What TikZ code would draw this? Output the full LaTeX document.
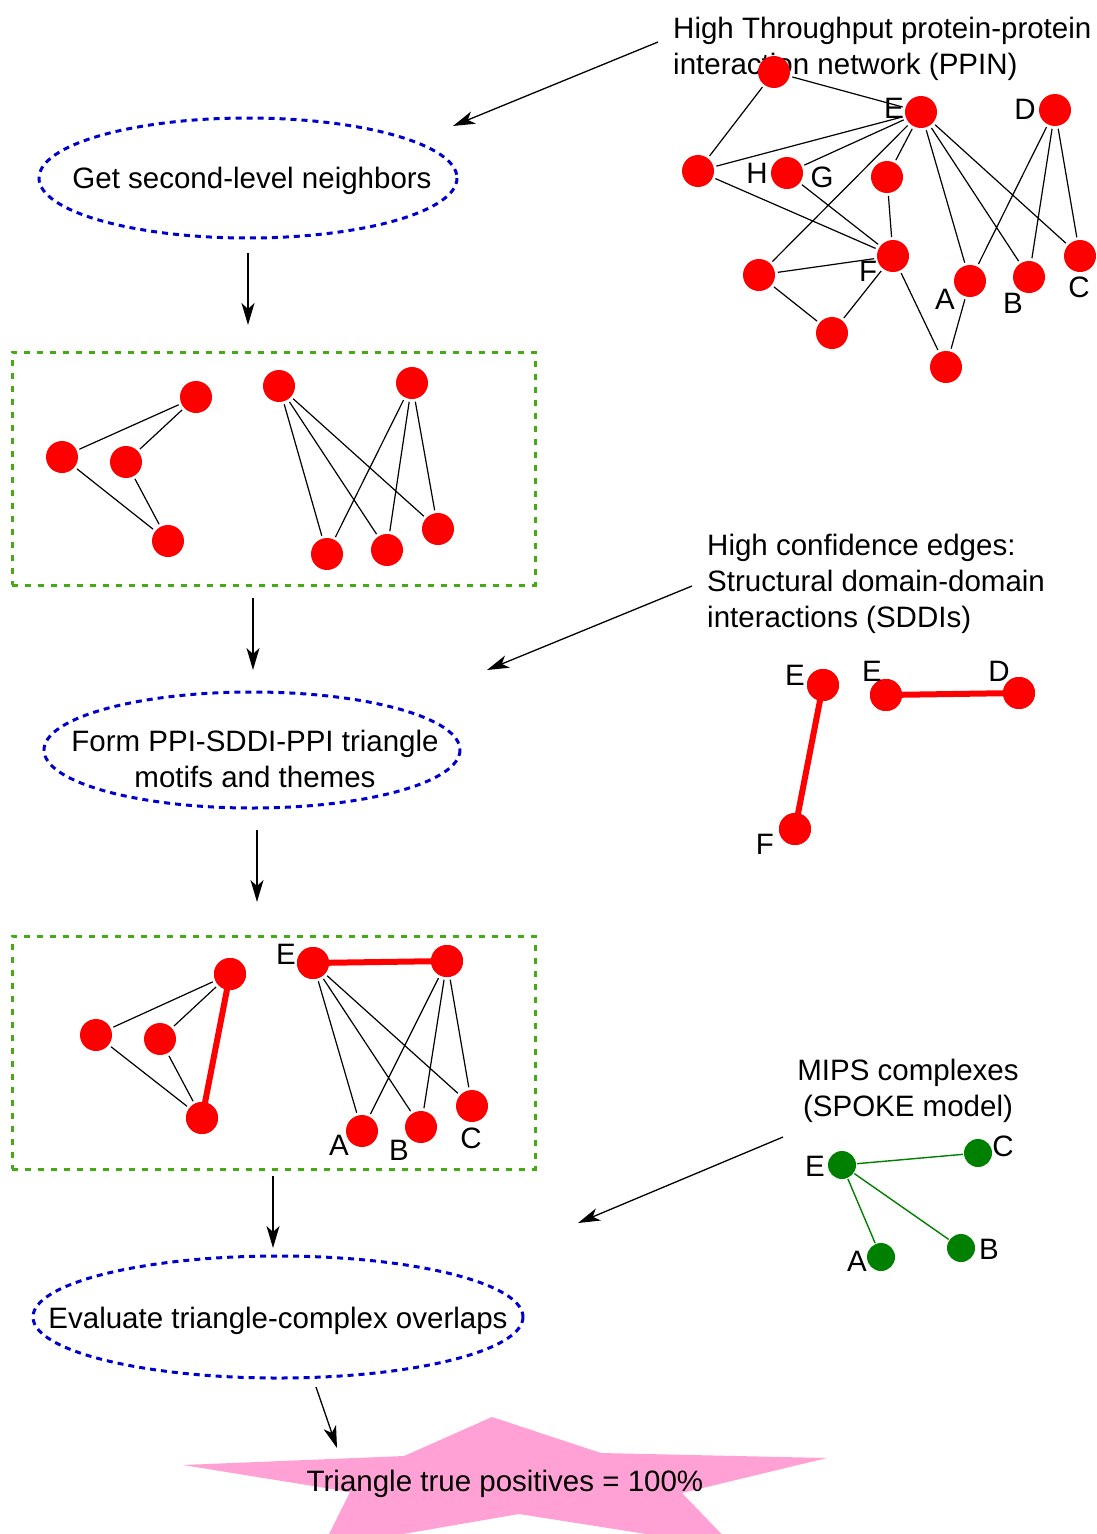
\documentclass[tikz,border=0pt]{standalone}
\usepackage{fontspec}
\setmainfont{Liberation Sans}
\usetikzlibrary{arrows.meta,shapes.geometric}
\definecolor{protred}{RGB}{255,0,0}
\definecolor{stepblue}{RGB}{0,0,205}
\definecolor{boxgreen}{RGB}{70,170,20}
\definecolor{spokegreen}{RGB}{0,128,0}
\definecolor{starpink}{RGB}{255,161,212}

\begin{document}
\begin{tikzpicture}[x=1pt,y=-1pt,
  every node/.style={font=\fontsize{29.5}{36}\selectfont},
  prot/.style={circle,fill=protred,minimum size=32pt,inner sep=0pt,outer sep=3pt},
  mips/.style={circle,fill=spokegreen,minimum size=28pt,inner sep=0pt,outer sep=1pt},
  lbl/.style={inner sep=0pt},
  ppi/.style={line width=1.2pt},
  sddi/.style={line width=6pt,draw=protred},
  spoke/.style={line width=1.4pt,draw=spokegreen},
  flow/.style={-{Stealth[length=22pt,width=13pt,inset=6pt]},line width=1.3pt},
  stepline/.style={draw=stepblue,line width=3pt,dash pattern=on 6pt off 5pt},
  groupbox/.style={draw=boxgreen,line width=3pt,dash pattern=on 6pt off 7pt}
]
\useasboundingbox (0,0) rectangle (1097,1534);
\clip (0,0) rectangle (1097,1534);

% ---------- high-throughput PPI network ----------
\node[lbl,anchor=west,align=left] (ppintitle) at (673,49)
  {High Throughput protein-protein\\interaction network (PPIN)};

\node[prot] (t1) at (774,72) {};
\node[prot] (nE) at (921,112) {};
\node[prot] (nD) at (1055,110) {};
\node[prot] (t2) at (698,171) {};
\node[prot] (nH) at (787,173) {};
\node[prot] (t3) at (887,177) {};
\node[prot] (nF) at (893,256) {};
\node[prot] (t4) at (759,275) {};
\node[prot] (t5) at (832,333) {};
\node[prot] (nA) at (970,281) {};
\node[prot] (nB) at (1029,277) {};
\node[prot] (nC) at (1080,256) {};
\node[prot] (t6) at (946,367) {};

\draw[ppi] (t1) -- (nE) (t1) -- (t2) (t2) -- (nE) (t2) -- (nF)
  (nH) -- (nE) (nH) -- (nF) (nE) -- (t4) (nE) -- (t3) (t3) -- (nF)
  (t4) -- (nF) (t4) -- (t5) (t5) -- (nF) (nF) -- (t6) (t6) -- (nA)
  (nE) -- (nA) (nE) -- (nB) (nE) -- (nC)
  (nD) -- (nA) (nD) -- (nB) (nD) -- (nC);

\node[lbl] (lE) at (894,108) {E};
\node[lbl] (lD) at (1025,109) {D};
\node[lbl] (lH) at (757,173) {H};
\node[lbl] (lG) at (822,177) {G};
\node[lbl] (lF) at (868,271) {F};
\node[lbl] (lA) at (945,299) {A};
\node[lbl] (lB) at (1013,303) {B};
\node[lbl] (lC) at (1079,287) {C};

% ---------- step 1 ----------
\node[lbl] (step1) at (252,181) {Get second-level neighbors};
\draw[stepline] (248,178) ellipse [x radius=209, y radius=60];

% ---------- second-level neighbour groups ----------
\node[groupbox,minimum width=523pt,minimum height=233pt,inner sep=0pt] (box1) at (273.5,468.5) {};
\node[prot] (p1) at (196,397) {};
\node[prot] (p2) at (62,457) {};
\node[prot] (p3) at (126,462) {};
\node[prot] (p4) at (168,541) {};
\draw[ppi] (p1) -- (p2) (p1) -- (p3) (p2) -- (p4) (p3) -- (p4);
\node[prot] (q1) at (279,386) {};
\node[prot] (q2) at (412,383) {};
\node[prot] (q3) at (327,554) {};
\node[prot] (q4) at (387,550) {};
\node[prot] (q5) at (438,529) {};
\draw[ppi] (q1) -- (q3) (q1) -- (q4) (q1) -- (q5)
  (q2) -- (q3) (q2) -- (q4) (q2) -- (q5);

% ---------- high confidence SDDI edges ----------
\node[lbl,anchor=west,align=left] (sdditext) at (707,584)
  {High confidence edges:\\Structural domain-domain\\interactions (SDDIs)};
\node[prot] (s1) at (823,685) {};
\node[prot] (s2) at (795,829) {};
\node[prot] (s3) at (886,695) {};
\node[prot] (s4) at (1019,693) {};
\draw[sddi] (s1.center) -- (s2.center) (s3.center) -- (s4.center);
\node[prot] at (s1) {};
\node[prot] at (s2) {};
\node[prot] at (s3) {};
\node[prot] at (s4) {};
\node[lbl] at (795,675) {E};
\node[lbl] at (765,844) {F};
\node[lbl] at (872,671) {E};
\node[lbl] at (999,671) {D};

% ---------- step 2 ----------
\node[lbl,align=center] (step2) at (255,759)
  {Form PPI-SDDI-PPI triangle\\motifs and themes};
\draw[stepline] (252,750) ellipse [x radius=208, y radius=58];

% ---------- triangle motifs ----------
\node[groupbox,minimum width=523pt,minimum height=233pt,inner sep=0pt] (box2) at (273.5,1052.5) {};
\node[prot] (m1) at (230,974) {};
\node[prot] (m2) at (96,1035) {};
\node[prot] (m3) at (160,1039) {};
\node[prot] (m4) at (202,1118) {};
\draw[ppi] (m1) -- (m2) (m1) -- (m3) (m2) -- (m4) (m3) -- (m4);
\draw[sddi] (m1.center) -- (m4.center);
\node[prot] at (m1) {};
\node[prot] at (m4) {};
\node[prot] (r1) at (313,963) {};
\node[prot] (r2) at (447,961) {};
\node[prot] (rA) at (362,1131) {};
\node[prot] (rB) at (421,1127) {};
\node[prot] (rC) at (472,1106) {};
\draw[ppi] (r1) -- (rA) (r1) -- (rB) (r1) -- (rC)
  (r2) -- (rA) (r2) -- (rB) (r2) -- (rC);
\draw[sddi] (r1.center) -- (r2.center);
\node[prot] at (r1) {};
\node[prot] at (r2) {};
\node[lbl] at (286,954) {E};
\node[lbl] at (339,1145) {A};
\node[lbl] at (399,1150) {B};
\node[lbl] at (471,1138) {C};

% ---------- MIPS complexes ----------
\node[lbl,align=center] (mipstext) at (908,1091) {MIPS complexes\\(SPOKE model)};
\node[mips] (cE) at (842,1165) {};
\node[mips] (cC) at (978,1153) {};
\node[mips] (cB) at (961,1248) {};
\node[mips] (cA) at (881,1257) {};
\draw[spoke] (cE) -- (cC) (cE) -- (cB) (cE) -- (cA);
\node[lbl] at (815,1166) {E};
\node[lbl] at (1003,1146) {C};
\node[lbl] at (989,1249) {B};
\node[lbl] at (857,1261) {A};

% ---------- step 3 ----------
\node[lbl] (step3) at (278,1321) {Evaluate triangle-complex overlaps};
\draw[stepline] (278,1317) ellipse [x radius=245, y radius=61];

% ---------- result ----------
\fill[starpink] (492,1417) -- (601,1453) -- (827,1458) -- (682,1493) -- (735,1548)
  -- (519,1514) -- (322,1548) -- (350,1492) -- (183,1465) -- (404,1456) -- cycle;
\node[lbl] (result) at (505,1484) {Triangle true positives = 100\%};

% ---------- flow arrows ----------
\coordinate (a1s) at (658,42);  \coordinate (a1e) at (453,126);
\coordinate (a2s) at (248,253); \coordinate (a2e) at (248,325);
\coordinate (a3s) at (253,598); \coordinate (a3e) at (253,670);
\coordinate (a4s) at (692,586); \coordinate (a4e) at (487,670);
\coordinate (a5s) at (257,830); \coordinate (a5e) at (257,902);
\coordinate (a6s) at (273,1176); \coordinate (a6e) at (273,1248);
\coordinate (a7s) at (783,1137); \coordinate (a7e) at (578,1223);
\coordinate (a8s) at (316,1387); \coordinate (a8e) at (337,1448);
\foreach \k in {1,...,8} { \draw[flow] (a\k s) -- (a\k e); }

\end{tikzpicture}
\end{document}
